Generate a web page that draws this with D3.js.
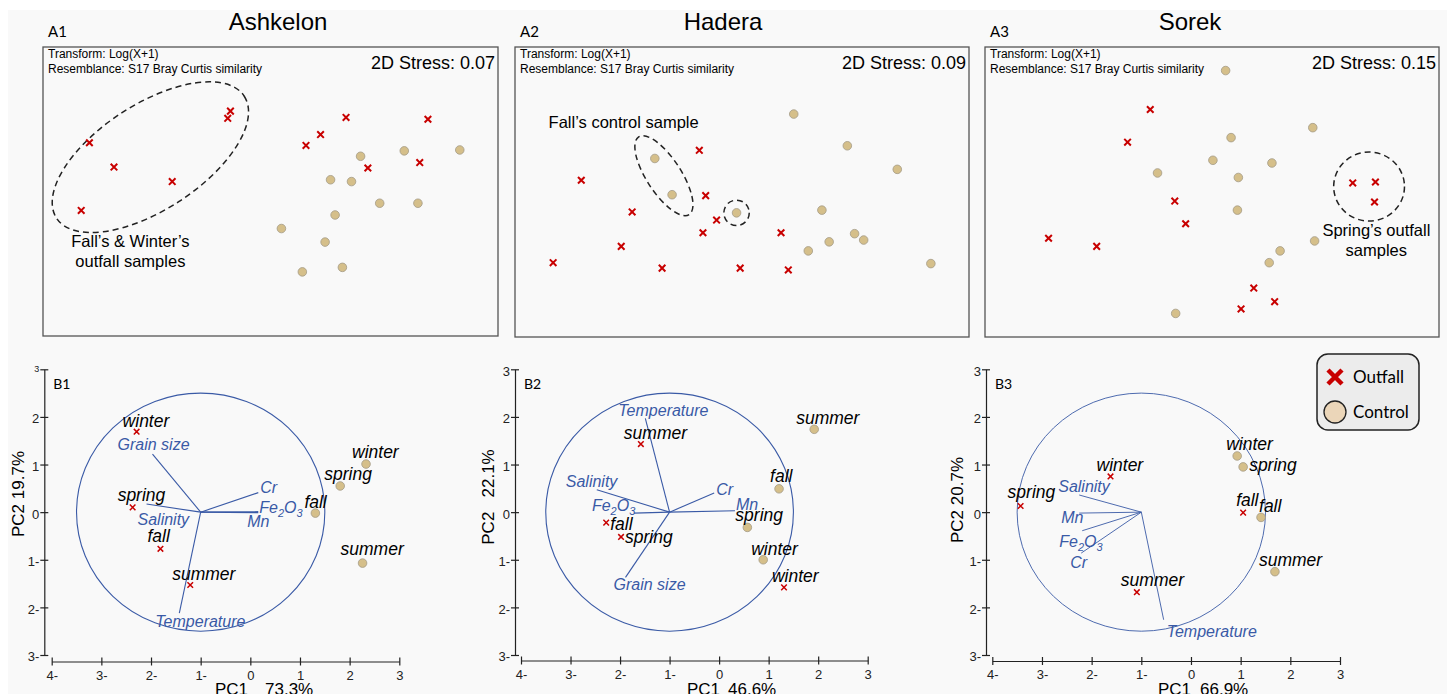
<!DOCTYPE html>
<html>
<head>
<meta charset="utf-8">
<script src="https://cdn.jsdelivr.net/npm/d3@7"></script>
<style>
body { margin: 0; background: #fff; }
svg { display: block; font-family: "Liberation Sans", Arial, sans-serif; }
</style>
</head>
<body>
<svg id="chart" width="1447" height="694"></svg>
<script>
// ---- data ----
var sites = ["Ashkelon", "Hadera", "Sorek"];
var mdsTags = ["A1", "A2", "A3"];
var pcaTags = ["B1", "B2", "B3"];
var stress = [0.07, 0.09, 0.15];
var pc1Var = ["73.3%", "46.6%", "66.9%"];
var pc2Label = ["PC2 19.7%", "PC2   22.1%", "PC2 20.7%"];
var tickVals = [-4, -3, -2, -1, 0, 1, 2, 3];
var yTickVals = [-3, -2, -1, 0, 1, 2, 3];

// nMDS ordination scores (MDS1, MDS2)
var mdsOutfall = [
  [[-0.44,0.89],[-0.47,0.81],[-1.99,0.54],[-1.72,0.27],[-1.08,0.11],[-2.08,-0.21],
   [0.83,0.82],[1.73,0.80],[0.55,0.63],[0.39,0.51],[1.07,0.26],[1.64,0.32]],
  [[-0.47,0.46],[-1.77,0.13],[-0.40,-0.04],[-1.21,-0.22],[-0.28,-0.31],[-0.43,-0.45],
   [0.43,-0.45],[-1.33,-0.60],[-2.08,-0.78],[-0.88,-0.84],[-0.02,-0.84],[0.51,-0.86]],
  [[-0.68,0.91],[-0.93,0.55],[-0.41,-0.10],[-0.29,-0.35],[-1.80,-0.51],[-1.27,-0.60],
   [0.46,-1.06],[0.69,-1.21],[0.32,-1.29],[1.55,0.10],[1.80,0.11],[1.79,-0.11]]
];
var mdsControl = [
  [[0.99,0.39],[1.47,0.45],[2.08,0.46],[0.66,0.13],[0.89,0.11],[1.20,-0.13],
   [1.62,-0.13],[0.71,-0.26],[0.12,-0.41],[0.60,-0.56],[0.35,-0.89],[0.79,-0.84]],
  [[0.57,0.86],[1.16,0.51],[1.71,0.25],[-0.96,0.37],[-0.77,-0.03],[-0.06,-0.23],
   [0.88,-0.20],[1.24,-0.46],[1.34,-0.53],[0.96,-0.55],[0.73,-0.65],[2.08,-0.79]],
  [[0.15,1.34],[1.11,0.71],[0.21,0.60],[0.01,0.35],[0.66,0.32],[-0.60,0.21],
   [0.29,0.16],[0.28,-0.20],[1.13,-0.54],[0.75,-0.65],[0.63,-0.78],[-0.40,-1.34]]
];
var noteLines = [
  ["Fall\u2019s & Winter\u2019s", "outfall samples"],
  ["Fall\u2019s control sample"],
  ["Spring\u2019s outfall", "samples"]
];

// PCA biplots
var seasons = ["winter", "spring", "fall", "summer"];
var pcaOutfall = [
  [[-2.29,1.69],[-2.37,0.10],[-1.81,-0.77],[-1.21,-1.53]],
  [[1.31,-1.58],[-1.98,-0.52],[-2.28,-0.22],[-1.58,1.43]],
  [[-1.62,0.75],[-3.43,0.13],[1.05,-0.01],[-1.09,-1.68]]
];
var pcaControl = [
  [[2.33,1.01],[1.81,0.55],[1.31,-0.02],[2.26,-1.07]],
  [[0.89,-1.00],[0.57,-0.32],[1.21,0.49],[1.92,1.74]],
  [[0.93,1.18],[1.05,0.95],[1.41,-0.11],[1.69,-1.25]]
];
var variables = ["Grain size", "Salinity", "Temperature", "Cr", "Mn", "Fe2O3"];
var loadings = [
  [[-0.97,1.22],[-1.09,0.17],[-0.43,-2.12],[1.16,0.41],[1.16,-0.01],[1.16,0.01]],
  [[-0.89,-1.37],[-1.47,0.47],[-0.49,1.97],[0.90,0.40],[1.32,0.03],[-0.72,-0.02]],
  [null,[-1.25,0.36],[0.45,-2.26],[-1.21,-0.86],[-1.25,-0.02],[-1.19,-0.39]]
];
var circleCentre = [-1, 0];
var circleRadius = 2.5;

// ---- layout ----
var topBoxes = [
  {x: 43, y: 47, w: 455, h: 289, title: 278},
  {x: 515, y: 47, w: 454, h: 290, title: 723},
  {x: 985, y: 47, w: 454, h: 290, title: 1190}
];
var notes = [
  {shapes: [{cx: -1.32, cy: 0.38, a: 1.23, b: 0.58, rot: -33}], tx: -1.54, ty: -0.61, anchor: "middle"},
  {shapes: [{cx: -0.86, cy: 0.18, a: 0.51, b: 0.19, rot: 57}, {cx: -0.06, cy: -0.23, a: 0.14, b: 0.14, rot: 0}],
   tx: -2.13, ty: 0.71, anchor: "start"},
  {shapes: [{cx: 1.73, cy: 0.06, a: 0.39, b: 0.38, rot: 0}], tx: 1.81, ty: -0.48, anchor: "middle"}
];
var bottom = [
  {axisX: 44.3, x0: 51.7, x1: 399.3, yAxisAt: 661.5, yLab: [18, 494], pc1X: 215, pctX: 265},
  {axisX: 515, x0: 521, x1: 867.7, yAxisAt: 660.5, yLab: [488, 497], pc1X: 687, pctX: 728},
  {axisX: 986, x0: 992.3, x1: 1340, yAxisAt: 661, yLab: [957, 500], pc1X: 1158, pctX: 1200}
];
var varNudge = [
  [[-35,-4],[-9,21],[-24,14],[2,0],[-11,14],[1,1]],
  [[-12,13],[-31,-3],[-27,-2],[2,2],[1,-1],[-42,-2]],
  [null,[-21,-3],[3,17],[-11,15],[-18,10],[-23,16]]
];
var outNudge = [
  [[-14,-5],[-15,-6],[-13,-7],[-18,-5]],
  [[-12,-5],[4,6],[4,7],[-17,-5]],
  [[-14,-5],[-13,-8],[-7,-7],[-16,-6]]
];
var ctlNudge = [
  [[-14,-6],[-16,-6],[-11,-5],[-22,-8]],
  [[-12,-5],[-12,-6],[-9,-7],[-18,-5]],
  [[-11,-6],[6,4],[-2,-5],[-16,-6]]
];

var red = "#c80000", tan = "#d5bf8a", blue = "#3a5aa6";

var svg = d3.select("#chart");
svg.append("rect").attr("x", 8).attr("y", 10).attr("width", 1439).attr("height", 684).attr("fill", "#f9f9f9");

function crossPath(s) { return "M" + (-s) + "," + (-s) + "L" + s + "," + s + "M" + s + "," + (-s) + "L" + (-s) + "," + s; }

// ---- top row: nMDS ----
topBoxes.forEach(function (b, i) {
  var g = svg.append("g");
  var x = d3.scaleLinear().domain([-2.5, 2.5]).range([b.x, b.x + b.w]);
  var y = d3.scaleLinear().domain([-1.6, 1.6]).range([b.y + b.h, b.y]);
  var kx = x(1) - x(0);

  g.append("text").attr("x", b.title).attr("y", 30).attr("text-anchor", "middle")
    .style("font-size", "24px").text(sites[i]);
  g.append("text").attr("x", b.x + 5).attr("y", 37).style("font-size", "15px")
    .style("font-family", "Lato, sans-serif").text(mdsTags[i]);
  g.append("rect").attr("x", b.x).attr("y", b.y).attr("width", b.w).attr("height", b.h)
    .attr("fill", "#f9f9f9").attr("stroke", "#555").attr("stroke-width", 1.3);
  g.append("text").attr("x", b.x + 5).attr("y", b.y + 11).style("font-size", "12px").text("Transform: Log(X+1)");
  g.append("text").attr("x", b.x + 5).attr("y", b.y + 26).style("font-size", "12px").text("Resemblance: S17 Bray Curtis similarity");
  g.append("text").attr("x", b.x + b.w - 3).attr("y", b.y + 22).attr("text-anchor", "end")
    .style("font-size", "18px").text("2D Stress: " + stress[i].toFixed(2));

  var n = notes[i];
  n.shapes.forEach(function (s) {
    g.append("ellipse")
      .attr("transform", "translate(" + x(s.cx) + "," + y(s.cy) + ") rotate(" + s.rot + ")")
      .attr("rx", s.a * kx).attr("ry", s.b * kx)
      .attr("fill", "none").attr("stroke", "#222").attr("stroke-width", 1.5)
      .attr("stroke-dasharray", "6,4");
  });
  noteLines[i].forEach(function (t, j) {
    g.append("text").attr("x", x(n.tx)).attr("y", y(n.ty) + j * 20)
      .attr("text-anchor", n.anchor).style("font-size", "16.5px").text(t);
  });

  g.selectAll(".ctl").data(mdsControl[i]).enter().append("circle")
    .attr("cx", function (d) { return x(d[0]); })
    .attr("cy", function (d) { return y(d[1]); })
    .attr("r", 4.3).attr("fill", tan).attr("stroke", "#a39a86").attr("stroke-width", 0.8);
  g.selectAll(".out").data(mdsOutfall[i]).enter().append("path")
    .attr("transform", function (d) { return "translate(" + x(d[0]) + "," + y(d[1]) + ")"; })
    .attr("d", crossPath(3.3)).attr("stroke", red).attr("stroke-width", 2).attr("fill", "none");
});

// ---- bottom row: PCA biplots ----
function negFmt(v) { return v < 0 ? Math.abs(v) + "-" : String(v); }

function blueLabel(sel, name) {
  if (name === "Fe2O3") {
    sel.append("tspan").text("Fe");
    sel.append("tspan").attr("dy", 4).style("font-size", "11px").text("2");
    sel.append("tspan").attr("dy", -4).text("O");
    sel.append("tspan").attr("dy", 4).style("font-size", "11px").text("3");
  } else {
    sel.text(name);
  }
}

bottom.forEach(function (p, i) {
  var g = svg.append("g");
  var x = d3.scaleLinear().domain([-4, 3]).range([p.x0, p.x1]);
  var y = d3.scaleLinear().domain([-3, 3]).range([655, 369.3]);

  var xa = g.append("g").attr("transform", "translate(0," + p.yAxisAt + ")")
    .call(d3.axisBottom(x).tickValues(tickVals).tickFormat(negFmt).tickSizeInner(4).tickSizeOuter(0));
  xa.selectAll(".tick line").attr("y1", -4);
  xa.selectAll(".tick text").attr("y", 9).style("font-size", "13px");
  var ya = g.append("g").attr("transform", "translate(" + p.axisX + ",0)")
    .call(d3.axisLeft(y).tickValues(yTickVals).tickFormat(negFmt).tickSizeInner(4).tickSizeOuter(0));
  ya.selectAll(".tick line").attr("x1", 4);
  ya.selectAll(".tick text").attr("x", -5).attr("dy", "0.45em").style("font-size", "13px");
  if (i === 0) ya.selectAll(".tick text").filter(function (d) { return d === 3; }).style("font-size", "9px").attr("dy", "0.2em");
  g.selectAll(".domain, .tick line").attr("stroke", "#222").attr("stroke-width", 1.2);
  g.selectAll(".tick text").attr("fill", "#222").style("font-family", "\"Liberation Sans\", Arial, sans-serif");

  g.append("text").attr("x", p.axisX + 9).attr("y", 389).style("font-size", "14px")
    .style("font-family", "Lato, sans-serif").text(pcaTags[i]);
  g.append("text").attr("x", p.pc1X).attr("y", 695).style("font-size", "17px").text("PC1");
  g.append("text").attr("x", p.pctX).attr("y", 695).style("font-size", "17px").text(pc1Var[i]);
  g.append("text").attr("transform", "translate(" + p.yLab[0] + "," + p.yLab[1] + ") rotate(-90)")
    .attr("text-anchor", "middle").attr("dy", "0.35em").style("font-size", "17px")
    .style("white-space", "pre").text(pc2Label[i]);

  var cx = x(circleCentre[0]), cy = y(circleCentre[1]);
  g.append("ellipse").attr("cx", cx).attr("cy", cy)
    .attr("rx", x(circleRadius) - x(0)).attr("ry", y(0) - y(circleRadius))
    .attr("fill", "none").attr("stroke", blue).attr("stroke-width", i === 2 ? 0.9 : 1.1);

  loadings[i].forEach(function (l, k) {
    if (!l) return;
    var ex = x(circleCentre[0] + l[0]), ey = y(circleCentre[1] + l[1]);
    g.append("line").attr("x1", cx).attr("y1", cy).attr("x2", ex).attr("y2", ey)
      .attr("stroke", blue).attr("stroke-width", i === 2 ? 0.9 : 1.1);
    var t = g.append("text").attr("x", ex + varNudge[i][k][0]).attr("y", ey + varNudge[i][k][1])
      .attr("fill", blue).style("font-size", "16px").style("font-style", "italic");
    blueLabel(t, variables[k]);
  });

  pcaControl[i].forEach(function (d, k) {
    g.append("circle").attr("cx", x(d[0])).attr("cy", y(d[1])).attr("r", 4.3)
      .attr("fill", tan).attr("stroke", "#a39a86").attr("stroke-width", 0.8);
    g.append("text").attr("x", x(d[0]) + ctlNudge[i][k][0]).attr("y", y(d[1]) + ctlNudge[i][k][1])
      .style("font-size", "17.5px").style("font-style", "italic").text(seasons[k]);
  });
  pcaOutfall[i].forEach(function (d, k) {
    g.append("path").attr("transform", "translate(" + x(d[0]) + "," + y(d[1]) + ")")
      .attr("d", crossPath(2.8)).attr("stroke", red).attr("stroke-width", 1.5).attr("fill", "none");
    g.append("text").attr("x", x(d[0]) + outNudge[i][k][0]).attr("y", y(d[1]) + outNudge[i][k][1])
      .style("font-size", "17.5px").style("font-style", "italic").text(seasons[k]);
  });
});

// legend
var lg = svg.append("g").attr("transform", "translate(1317,354)");
lg.append("rect").attr("width", 102).attr("height", 76).attr("rx", 11)
  .attr("fill", "#ececec").attr("stroke", "#222").attr("stroke-width", 1.5);
lg.append("path").attr("transform", "translate(18,23)").attr("d", crossPath(7))
  .attr("stroke", red).attr("stroke-width", 4.5).attr("fill", "none");
lg.append("text").attr("x", 36).attr("y", 29).style("font-size", "17px")
  .style("font-family", "Lato, sans-serif").text("Outfall");
lg.append("circle").attr("cx", 18).attr("cy", 58).attr("r", 11)
  .attr("fill", "#ebd6b9").attr("stroke", "#222").attr("stroke-width", 1.3);
lg.append("text").attr("x", 36).attr("y", 64).style("font-size", "17px")
  .style("font-family", "Lato, sans-serif").text("Control");
</script>
</body>
</html>
